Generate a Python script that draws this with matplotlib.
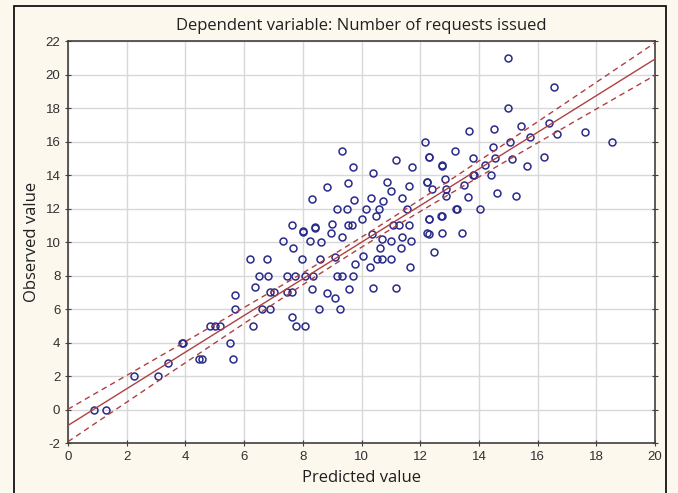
import numpy as np
import matplotlib.pyplot as plt

plt.rcParams['axes.unicode_minus'] = False

# predicted / observed pairs
predicted = [0.9, 1.3, 2.26, 3.08, 3.42, 3.87, 3.93, 4.45, 4.55, 4.84, 5.0, 5.18,
             5.52, 5.61, 5.69, 5.69, 6.2, 6.79, 6.5, 6.8, 6.37, 6.88, 7.0, 6.6, 6.88,
             6.31, 7.62, 7.77, 8.07, 7.45, 7.62, 8.32, 8.81, 9.57, 10.4, 11.18, 9.1,
             8.56, 9.27, 7.45, 7.73, 8.07, 8.36, 9.15, 9.32, 9.72, 7.96, 8.59, 9.1,
             10.04, 10.52, 10.69, 11.0, 11.33, 12.48, 9.78, 10.27, 11.65, 7.34, 7.68,
             8.24, 8.62, 10.63, 11.0, 11.7, 8.02, 8.96, 9.35, 10.36, 11.37, 12.3,
             12.75, 7.62, 8.42, 9.0, 9.55, 9.66, 10.03, 10.48, 11.08, 11.28, 11.6,
             12.3, 12.7, 8.02, 8.42, 9.15, 9.5, 10.14, 10.6, 11.54, 13.2, 8.32, 9.74,
             10.32, 10.72, 11.37, 8.81, 9.55, 10.86, 11.6, 12.22, 11.0, 9.7, 11.73,
             12.75, 10.4, 9.35, 11.18, 12.3, 12.16, 13.19, 15.0, 16.57, 15.0, 13.66,
             14.51, 15.43, 16.39, 17.6, 18.52, 15.04, 15.74, 16.65, 14.49, 12.31,
             13.81, 14.55, 15.12, 16.22, 12.73, 14.21, 15.65, 13.81, 14.41, 12.24,
             12.84, 13.5, 12.39, 12.88, 12.88, 13.64, 14.6, 15.25, 13.24, 14.04,
             12.28, 12.73, 13.41, 13.84, 12.24, 10.69]
observed = [0.0, 0.0, 2.0, 2.0, 2.8, 4.0, 4.0, 3.0, 3.0, 5.0, 5.0, 5.0,
            4.0, 3.0, 6.0, 6.84, 9.0, 9.0, 8.0, 8.0, 7.3, 7.0, 7.0, 6.0, 6.0,
            5.0, 5.5, 5.0, 5.0, 7.0, 7.0, 7.18, 6.94, 7.18, 7.24, 7.24, 6.66,
            6.0, 6.0, 8.0, 8.0, 8.0, 8.0, 8.0, 8.0, 8.0, 9.0, 9.0, 9.1,
            9.16, 9.0, 9.0, 9.0, 9.62, 9.39, 8.69, 8.49, 8.49, 10.06, 9.62,
            10.06, 10.0, 9.62, 10.06, 10.06, 10.66, 10.52, 10.32, 10.48, 10.32, 10.46,
            10.52, 11.0, 10.85, 11.1, 11.0, 11.0, 11.37, 11.55, 11.0, 11.0, 11.0,
            11.37, 11.55, 10.6, 10.88, 12.0, 12.0, 12.0, 12.0, 12.0, 12.0, 12.57, 12.5,
            12.64, 12.45, 12.6, 13.27, 13.54, 13.6, 13.36, 13.6, 13.04, 14.5, 14.5,
            14.6, 14.1, 15.43, 14.9, 15.1, 15.95, 15.43, 21.0, 19.27, 18.0, 16.65,
            16.73, 16.94, 17.1, 16.55, 15.95, 15.95, 16.29, 16.45, 15.65, 15.05,
            15.0, 15.0, 14.96, 15.06, 14.55, 14.6, 14.55, 14.0, 14.0, 13.6,
            13.74, 13.4, 13.15, 13.15, 12.75, 12.67, 12.94, 12.76, 11.97, 12.0,
            11.37, 11.57, 10.55, 14.0, 10.52, 10.2]

# fitted line and 95% band as drawn
intercept = -0.95
slope = 1.094
band_center = 10.0
band_mid = 0.3
band_end = 0.97

navy = '#2a2a8a'
red = '#b04040'

fig = plt.figure(figsize=(6.78, 4.93), dpi=100, facecolor='#fcf8ee')
ax = fig.add_axes([0.1003, 0.1014, 0.866, 0.8154])
ax.set_facecolor('white')

xs = np.linspace(0, 20, 200)
fit = intercept + slope * xs
k = np.sqrt(band_end**2 - band_mid**2) / band_center
hw = np.sqrt(band_mid**2 + (k * (xs - band_center))**2)

ax.plot(predicted, observed, 'o', mfc='none', mec=navy, ms=5, mew=1.1, zorder=3)
ax.plot(xs, fit, '-', color=red, lw=1.0, zorder=4)
ax.plot(xs, fit + hw, '--', color=red, lw=1.0, dashes=(4, 3), zorder=4)
ax.plot(xs, fit - hw, '--', color=red, lw=1.0, dashes=(4, 3), zorder=4)

ax.set_xlim(0, 20)
ax.set_ylim(-2, 22)
ax.set_xticks(np.arange(0, 21, 2))
ax.set_yticks(np.arange(-2, 23, 2))
ax.grid(True, color='#d8d8d8', lw=1.0)
ax.set_axisbelow(True)
for s in ax.spines.values():
    s.set_color('#404040')
    s.set_linewidth(1.2)
ax.tick_params(direction='inout', length=4, color='#404040', labelsize=9.5,
               labelcolor='#303030', right=True)
for lab in ax.get_xticklabels() + ax.get_yticklabels():
    lab.set_family('Liberation Sans')

ax.set_title('Dependent variable: Number of requests issued', fontsize=12,
             family='Open Sans', color='#202020', pad=8)
ax.set_xlabel('Predicted value', fontsize=12, family='Open Sans', color='#202020', labelpad=5)
ax.set_ylabel('Observed value', fontsize=12, family='Open Sans', color='#202020', labelpad=4)

# outer frame of the exported window
fig.add_artist(plt.Rectangle((14 / 678, -0.05), 652 / 678, 1 - 6 / 493 + 0.05,
                             transform=fig.transFigure, fill=False, ec='black', lw=1.2))

fig.savefig('out.png', dpi=100, facecolor=fig.get_facecolor())
